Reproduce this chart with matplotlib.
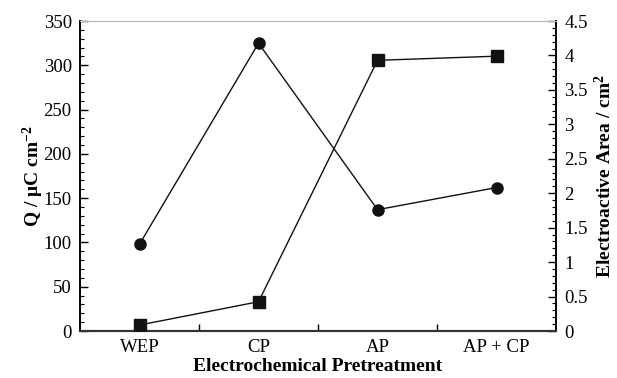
import numpy as np
import matplotlib
matplotlib.use("Agg")
from matplotlib import pyplot as plt
from matplotlib.ticker import MultipleLocator, FixedLocator

categories = ["WEP", "CP", "AP", "AP + CP"]
charge = [98, 325, 137, 162]          # Q / uC cm^-2 (left axis)
area = [0.087, 0.425, 3.93, 3.99]     # electroactive area / cm^2 (right axis)

plt.rcParams["font.family"] = ["Liberation Serif"]
plt.rcParams["mathtext.fontset"] = "custom"
plt.rcParams["mathtext.rm"] = "Liberation Serif:bold"
plt.rcParams["mathtext.it"] = "Liberation Serif:bold"

fig = plt.figure(figsize=(6.17, 3.78), dpi=100)
ax = fig.add_axes([0.1297, 0.1243, 0.7715, 0.82])
ax2 = ax.twinx()

x = np.arange(len(categories))
ax.plot(x, charge, color="#111111", lw=1, marker="o", ms=8, zorder=3)
ax2.plot(x, area, color="#111111", lw=1, marker="s", ms=8, zorder=3)

ax.set_xlim(-0.5, 3.5)
ax.set_ylim(0, 350)
ax2.set_ylim(0, 4.5)

ax.set_xticks(x)
ax.set_xticklabels(categories, fontsize=13.5)
ax.xaxis.set_minor_locator(FixedLocator([0.5, 1.5, 2.5]))
ax.tick_params(axis="x", which="major", length=0, pad=6)
ax.tick_params(axis="x", which="minor", direction="in", length=5, width=1, top=False)

ax.yaxis.set_major_locator(MultipleLocator(50))
ax.yaxis.set_minor_locator(MultipleLocator(10))
ax.tick_params(axis="y", which="major", direction="in", length=6, width=1, labelsize=13.5, pad=6)
ax.tick_params(axis="y", which="minor", direction="in", length=3, width=0.8)

ax2.set_yticks([0, 0.5, 1, 1.5, 2, 2.5, 3, 3.5, 4, 4.5])
ax2.set_yticklabels(["0", "0.5", "1", "1.5", "2", "2.5", "3", "3.5", "4", "4.5"])
ax2.yaxis.set_minor_locator(MultipleLocator(0.1))
ax2.tick_params(axis="y", which="major", direction="in", length=6, width=1, labelsize=13.5, pad=6)
ax2.tick_params(axis="y", which="minor", direction="in", length=3, width=0.8)

for a in (ax, ax2):
    a.spines["top"].set_color("#bbbbbb")
    a.spines["left"].set_linewidth(1.2)
    a.spines["right"].set_linewidth(1.2)
    a.spines["bottom"].set_linewidth(1.5)
    a.spines["bottom"].set_color("#333333")

ax.set_xlabel("Electrochemical Pretreatment", fontsize=14, fontweight="bold", labelpad=1)
ax.set_ylabel(r"Q / $\mu$C cm$^{-2}$", fontsize=14, fontweight="bold", labelpad=-2)
ax2.set_ylabel(r"Electroactive Area / cm$^{2}$", fontsize=14, fontweight="bold", labelpad=4)

fig.savefig("out.png", dpi=100)
